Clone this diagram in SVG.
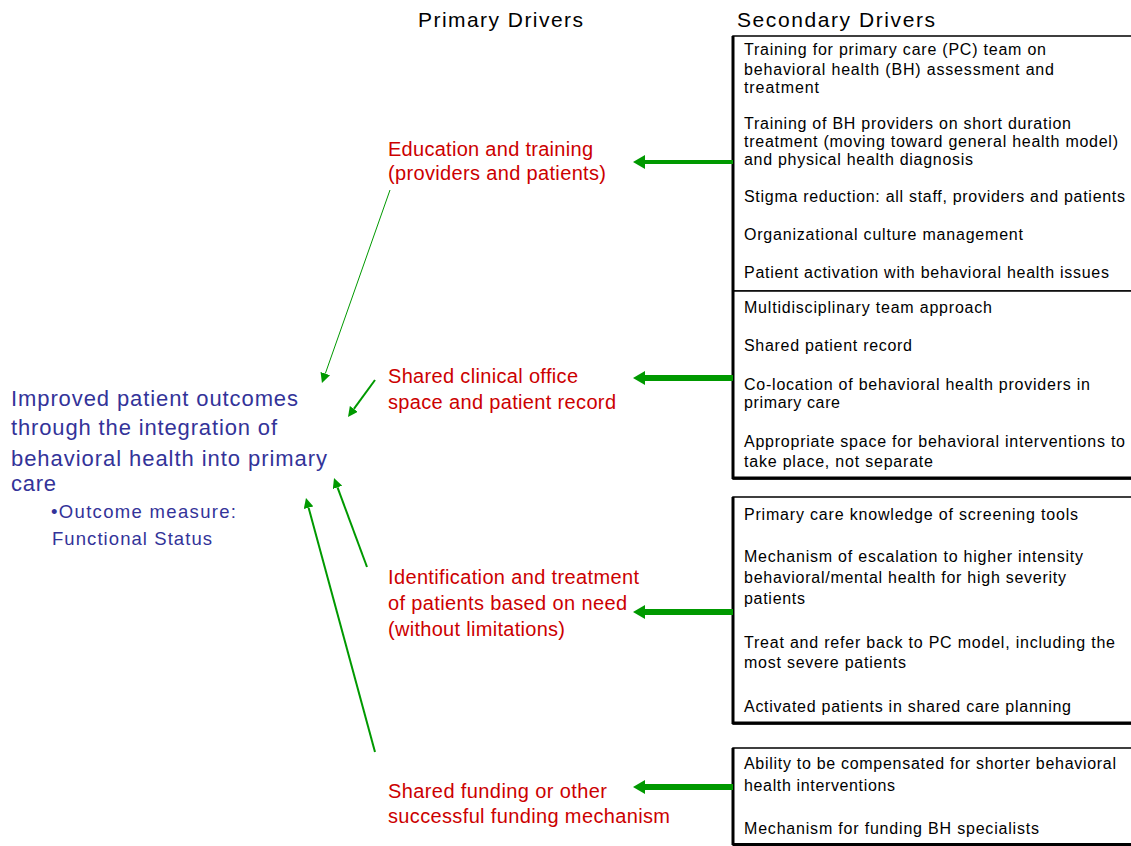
<svg xmlns="http://www.w3.org/2000/svg" width="1131" height="846" viewBox="0 0 1131 846">
<style>
text{font-family:"Liberation Sans",Arial,sans-serif}
.hdr{font-size:21px;fill:#000}
.goal{font-size:22px;fill:#333399}
.sub{font-size:18.5px;fill:#333399}
.pd{font-size:20px;fill:#cc0000}
.sd{font-size:16px;fill:#000}
.box{fill:#fff;stroke:#000;stroke-width:1.5}
.shadow{fill:none;stroke:#000;stroke-width:3}
.big{stroke:#009900;stroke-width:6;fill:none}
.mid{stroke:#009900;stroke-width:4;fill:none}
.thin{stroke:#009900;stroke-width:1;fill:none}
.med{stroke:#009900;stroke-width:2;fill:none}
</style>
<defs>
<marker id="ah" markerUnits="userSpaceOnUse" markerWidth="12" markerHeight="14" refX="0" refY="7" orient="auto"><path d="M0,0 L12,7 L0,14 z" fill="#009900"/></marker>
<marker id="as" markerUnits="userSpaceOnUse" markerWidth="10" markerHeight="10" refX="0" refY="5" orient="auto"><path d="M0,0 L10,5 L0,10 z" fill="#009900"/></marker>
</defs>
<rect width="1131" height="846" fill="#fff"/>
<g id="headers">
<text class="hdr" x="418" y="27" textLength="165" lengthAdjust="spacing">Primary Drivers</text>
<text class="hdr" x="737" y="27" textLength="198" lengthAdjust="spacing">Secondary Drivers</text>
</g>
<g id="goal">
<text class="goal" x="11" y="406" textLength="287" lengthAdjust="spacing">Improved patient outcomes</text>
<text class="goal" x="11" y="435" textLength="266" lengthAdjust="spacing">through the integration of</text>
<text class="goal" x="11" y="466" textLength="316" lengthAdjust="spacing">behavioral health into primary</text>
<text class="goal" x="11" y="491" textLength="45" lengthAdjust="spacing">care</text>
<text class="sub" x="51" y="518" textLength="185" lengthAdjust="spacing">•Outcome measure:</text>
<text class="sub" x="52" y="545" textLength="160" lengthAdjust="spacing">Functional Status</text>
</g>
<g id="pd1">
<text class="pd" x="388" y="156" textLength="205" lengthAdjust="spacing">Education and training</text>
<text class="pd" x="388" y="180" textLength="218" lengthAdjust="spacing">(providers and patients)</text>
</g>
<g id="pd2">
<text class="pd" x="388" y="383" textLength="190" lengthAdjust="spacing">Shared clinical office</text>
<text class="pd" x="388" y="409" textLength="228" lengthAdjust="spacing">space and patient record</text>
</g>
<g id="pd3">
<text class="pd" x="388" y="584" textLength="251" lengthAdjust="spacing">Identification and treatment</text>
<text class="pd" x="388" y="610" textLength="239" lengthAdjust="spacing">of patients based on need</text>
<text class="pd" x="388" y="636" textLength="177" lengthAdjust="spacing">(without limitations)</text>
</g>
<g id="pd4">
<text class="pd" x="388" y="798" textLength="219" lengthAdjust="spacing">Shared funding or other</text>
<text class="pd" x="388" y="823" textLength="282" lengthAdjust="spacing">successful funding mechanism</text>
</g>
<g id="sd1">
<rect class="box" x="733" y="36" width="420" height="255"/>
<text class="sd" x="744" y="55" textLength="302" lengthAdjust="spacing">Training for primary care (PC) team on</text>
<text class="sd" x="744" y="75" textLength="310" lengthAdjust="spacing">behavioral health (BH) assessment and</text>
<text class="sd" x="744" y="93" textLength="75" lengthAdjust="spacing">treatment</text>
<text class="sd" x="744" y="129" textLength="327" lengthAdjust="spacing">Training of BH providers on short duration</text>
<text class="sd" x="744" y="147" textLength="374" lengthAdjust="spacing">treatment (moving toward general health model)</text>
<text class="sd" x="744" y="165" textLength="229" lengthAdjust="spacing">and physical health diagnosis</text>
<text class="sd" x="744" y="202" textLength="381" lengthAdjust="spacing">Stigma reduction: all staff, providers and patients</text>
<text class="sd" x="744" y="240" textLength="279" lengthAdjust="spacing">Organizational culture management</text>
<text class="sd" x="744" y="278" textLength="365" lengthAdjust="spacing">Patient activation with behavioral health issues</text>
</g>
<g id="sd2">
<rect class="box" x="733" y="291" width="420" height="188"/>
<text class="sd" x="744" y="313" textLength="248" lengthAdjust="spacing">Multidisciplinary team approach</text>
<text class="sd" x="744" y="351" textLength="168" lengthAdjust="spacing">Shared patient record</text>
<text class="sd" x="744" y="390" textLength="346" lengthAdjust="spacing">Co-location of behavioral health providers in</text>
<text class="sd" x="744" y="408" textLength="96" lengthAdjust="spacing">primary care</text>
<text class="sd" x="744" y="447" textLength="381" lengthAdjust="spacing">Appropriate space for behavioral interventions to</text>
<text class="sd" x="744" y="467" textLength="189" lengthAdjust="spacing">take place, not separate</text>
</g>
<g id="sd3">
<rect class="box" x="733" y="497" width="420" height="227"/>
<text class="sd" x="744" y="520" textLength="334" lengthAdjust="spacing">Primary care knowledge of screening tools</text>
<text class="sd" x="744" y="562" textLength="339" lengthAdjust="spacing">Mechanism of escalation to higher intensity</text>
<text class="sd" x="744" y="583" textLength="322" lengthAdjust="spacing">behavioral/mental health for high severity</text>
<text class="sd" x="744" y="604" textLength="61" lengthAdjust="spacing">patients</text>
<text class="sd" x="744" y="648" textLength="371" lengthAdjust="spacing">Treat and refer back to PC model, including the</text>
<text class="sd" x="744" y="668" textLength="162" lengthAdjust="spacing">most severe patients</text>
<text class="sd" x="744" y="712" textLength="327" lengthAdjust="spacing">Activated patients in shared care planning</text>
</g>
<g id="sd4">
<rect class="box" x="733" y="748" width="420" height="97"/>
<text class="sd" x="744" y="769" textLength="372" lengthAdjust="spacing">Ability to be compensated for shorter behavioral</text>
<text class="sd" x="744" y="791" textLength="151" lengthAdjust="spacing">health interventions</text>
<text class="sd" x="744" y="834" textLength="295" lengthAdjust="spacing">Mechanism for funding BH specialists</text>
</g>
<g id="shadows">
<path class="shadow" d="M733,36 V479 M733,478 H1131 M733,497 V724 M733,723 H1131 M733,748 V845 M733,844.5 H1131"/>
</g>
<g id="connectors">
<line class="mid" x1="733" y1="162" x2="645" y2="162" marker-end="url(#ah)"/>
<line class="big" x1="733" y1="378" x2="645" y2="378" marker-end="url(#ah)"/>
<line class="big" x1="733" y1="612" x2="645" y2="612" marker-end="url(#ah)"/>
<line class="big" x1="733" y1="787" x2="645" y2="787" marker-end="url(#ah)"/>
<line class="thin" x1="390" y1="190" x2="325.3" y2="373.6" marker-end="url(#as)"/>
<line class="med" x1="375" y1="380" x2="353.9" y2="408.9" marker-end="url(#as)"/>
<line class="med" x1="367" y1="567" x2="337.5" y2="487.4" marker-end="url(#as)"/>
<line class="med" x1="375" y1="752" x2="308.6" y2="507.7" marker-end="url(#as)"/>
</g>
</svg>
